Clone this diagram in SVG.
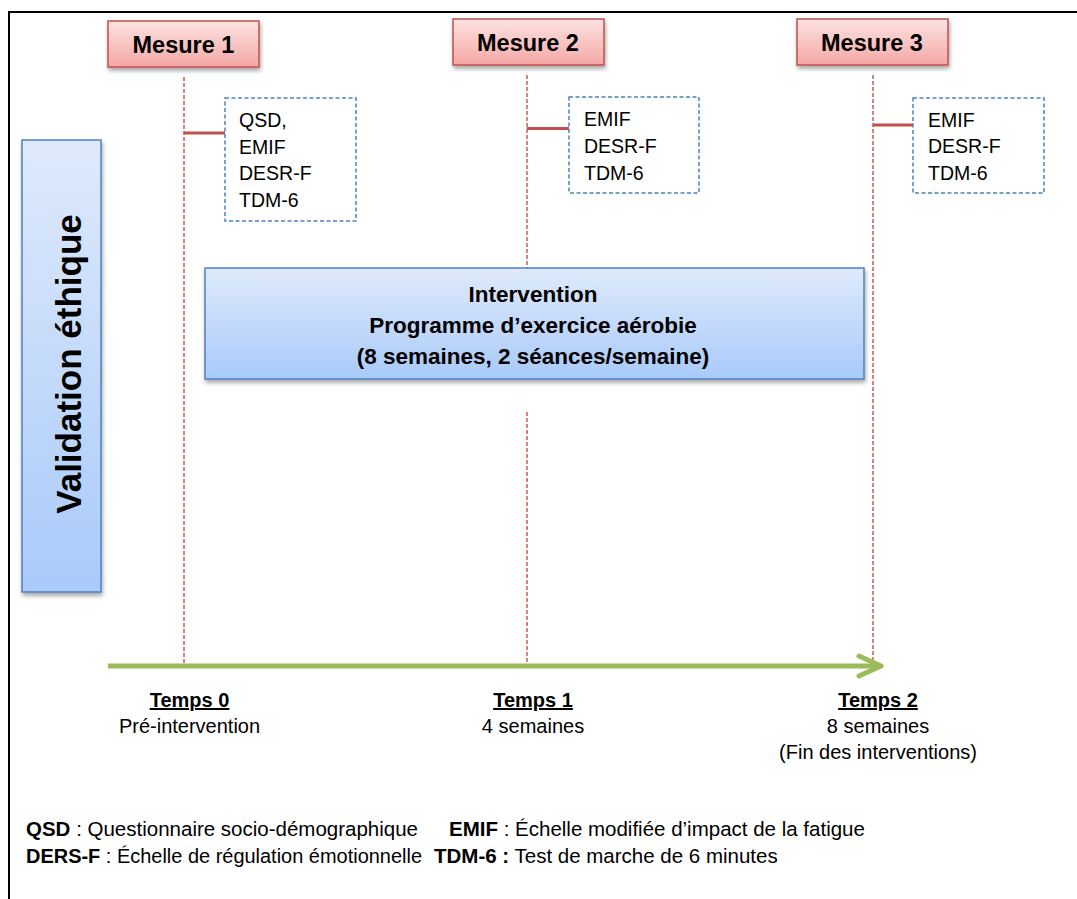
<svg xmlns="http://www.w3.org/2000/svg" width="1077" height="899" viewBox="0 0 1077 899">
<style>
text{font-family:"Liberation Sans",Arial,sans-serif;fill:#000}
.b{font-weight:bold}
.mes{font-size:23.5px;font-weight:bold;text-anchor:middle}
.mbox{fill:url(#gPink);stroke:#c0504d;stroke-width:1.5;filter:url(#sh)}
.bbox{fill:url(#gBlue);stroke:#4f81bd;stroke-width:1.5;filter:url(#sh)}
.dl{fill:none;stroke:#c9504c;stroke-width:1.4;stroke-dasharray:4 2}
.cn{fill:none;stroke:#c0504d;stroke-width:3}
.db{fill:#fff;stroke:#4f81bd;stroke-width:1.5;stroke-dasharray:4 2.5}
.it{font-size:19.5px}
.tl{font-size:20px;text-anchor:middle}
.lg{font-size:20.5px}
</style>
<defs>
<linearGradient id="gPink" x1="0" y1="0" x2="0" y2="1">
<stop offset="0" stop-color="#fde3e2"/>
<stop offset="1" stop-color="#f4a7a5"/>
</linearGradient>
<linearGradient id="gBlue" x1="0" y1="0" x2="0" y2="1">
<stop offset="0" stop-color="#dfeafb"/>
<stop offset="1" stop-color="#a9cafa"/>
</linearGradient>
<filter id="sh" x="-10%" y="-10%" width="120%" height="130%">
<feDropShadow dx="1" dy="3" stdDeviation="2" flood-color="#000" flood-opacity="0.35"/>
</filter>
</defs>
<rect width="1077" height="899" fill="#fff"/>
<path d="M9,899 V12 H1077" fill="none" stroke="#000" stroke-width="2"/>

<g id="connectors">
<line class="dl" x1="184" y1="77" x2="184" y2="665"/>
<line class="dl" x1="527" y1="75" x2="527" y2="268"/>
<line class="dl" x1="527" y1="412" x2="527" y2="665"/>
<line class="dl" x1="873" y1="75" x2="873" y2="665"/>
<line class="cn" x1="184" y1="133" x2="225" y2="133"/>
<line class="cn" x1="527" y1="128.5" x2="569" y2="128.5"/>
<line class="cn" x1="873" y1="125" x2="913" y2="125"/>
<g id="timeline" stroke="#9bbb59" stroke-width="5" fill="none" stroke-linecap="round" stroke-linejoin="round">
<line x1="108" y1="666" x2="879" y2="666" stroke-linecap="butt"/>
<polyline points="859,656 881,666 859,676"/>
</g>
</g>

<g id="validation">
<rect class="bbox" x="22" y="140" width="79" height="452"/>
<text class="b" font-size="35" text-anchor="middle" transform="translate(81,364) rotate(-90)">Validation éthique</text>
</g>

<g id="mesure1">
<rect class="mbox" x="108" y="21" width="151" height="46"/>
<text class="mes" x="183.5" y="53">Mesure 1</text>
</g>
<g id="mesure2">
<rect class="mbox" x="453" y="19" width="151" height="46"/>
<text class="mes" x="528" y="51">Mesure 2</text>
</g>
<g id="mesure3">
<rect class="mbox" x="797" y="19" width="151" height="46"/>
<text class="mes" x="872" y="51">Mesure 3</text>
</g>

<g id="box1">
<rect class="db" x="225" y="98" width="131" height="123"/>
<text class="it" x="239" y="127">QSD,</text>
<text class="it" x="239" y="154">EMIF</text>
<text class="it" x="239" y="180">DESR-F</text>
<text class="it" x="239" y="207">TDM-6</text>
</g>
<g id="box2">
<rect class="db" x="569" y="97" width="130" height="96"/>
<text class="it" x="584" y="126">EMIF</text>
<text class="it" x="584" y="153">DESR-F</text>
<text class="it" x="584" y="180">TDM-6</text>
</g>
<g id="box3">
<rect class="db" x="913" y="98" width="131" height="95"/>
<text class="it" x="928" y="127">EMIF</text>
<text class="it" x="928" y="153">DESR-F</text>
<text class="it" x="928" y="180">TDM-6</text>
</g>

<g id="intervention">
<rect class="bbox" x="205" y="268" width="659" height="111"/>
<text class="b" font-size="22.5" text-anchor="middle" x="533" y="302">Intervention</text>
<text class="b" font-size="22.5" text-anchor="middle" x="533" y="333">Programme d’exercice aérobie</text>
<text class="b" font-size="22.5" text-anchor="middle" x="533" y="364">(8 semaines, 2 séances/semaine)</text>
</g>

<g id="temps0">
<text class="tl b" x="189.5" y="707" text-decoration="underline">Temps 0</text>
<text class="tl" x="189.5" y="733">Pré-intervention</text>
</g>
<g id="temps1">
<text class="tl b" x="533" y="707" text-decoration="underline">Temps 1</text>
<text class="tl" x="533" y="733">4 semaines</text>
</g>
<g id="temps2">
<text class="tl b" x="878" y="707" text-decoration="underline">Temps 2</text>
<text class="tl" x="878" y="733">8 semaines</text>
<text class="tl" x="878" y="759">(Fin des interventions)</text>
</g>

<g id="legend">
<text class="lg" x="26" y="836"><tspan class="b">QSD</tspan> : Questionnaire socio-démographique</text>
<text class="lg" x="449" y="836"><tspan class="b">EMIF</tspan> : Échelle modifiée d’impact de la fatigue</text>
<text class="lg" x="26" y="863" textLength="396" lengthAdjust="spacingAndGlyphs"><tspan class="b">DERS-F</tspan> : Échelle de régulation émotionnelle</text>
<text class="lg" x="434" y="863"><tspan class="b">TDM-6 :</tspan> Test de marche de 6 minutes</text>
</g>
</svg>
